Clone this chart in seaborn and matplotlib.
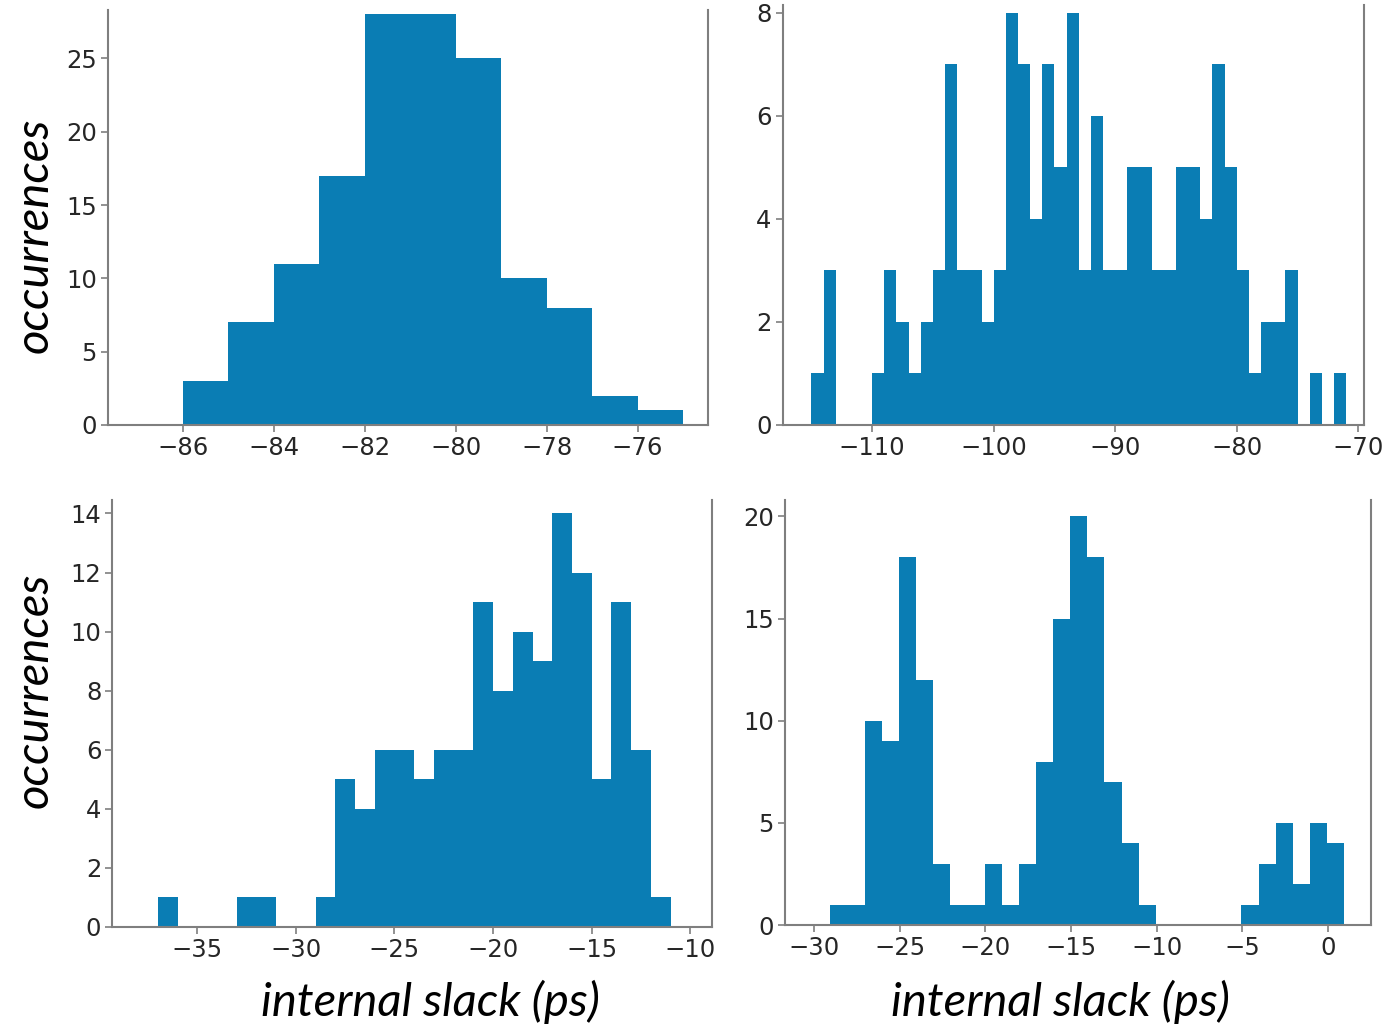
import numpy as np
import pandas as pd
import matplotlib
matplotlib.use("Agg")
import matplotlib.pyplot as plt
import seaborn as sns

# histogram counts (bins of width 1)
tl_start = -86
tl_counts = [3, 7, 11, 17, 28, 28, 25, 10, 8, 2, 1]

tr_start = -115
tr_counts = [1, 3, 0, 0, 0, 1, 3, 2, 1, 2, 3, 7, 3, 3, 2, 3, 8, 7, 4, 7, 5, 8,
             3, 6, 3, 3, 5, 5, 3, 3, 5, 5, 4, 7, 5, 3, 1, 2, 2, 3, 0, 1, 0, 1]

bl_start = -37
bl_counts = [1, 0, 0, 0, 1, 1, 0, 0, 1, 5, 4, 6, 6, 5, 6, 6, 11, 8, 10, 9,
             14, 12, 5, 11, 6, 1]

br_start = -29.05
br_counts = [1, 1, 10, 9, 18, 12, 3, 1, 1, 3, 1, 3, 8, 15, 20, 18, 7, 4, 1,
             0, 0, 0, 0, 0, 1, 3, 5, 2, 5, 4]

panels = [
    # counts, first edge, xlim, ylim, yticks, xticks, axes rect
    (tl_counts, tl_start, (-87.65, -74.45), (0, 28.3), range(0, 26, 5),
     range(-86, -75, 2), [0.0778, 0.5862, 0.4323, 0.404]),
    (tr_counts, tr_start, (-117.35, -69.5), (0, 8.15), range(0, 9, 2),
     range(-110, -69, 10), [0.5640, 0.5862, 0.4190, 0.409]),
    (bl_counts, bl_start, (-39.3, -8.9), (0, 14.45), range(0, 15, 2),
     range(-35, -9, 5), [0.0810, 0.0974, 0.4320, 0.4156]),
    (br_counts, br_start, (-31.7, 2.5), (0, 20.8), range(0, 21, 5),
     range(-30, 1, 5), [0.5656, 0.0993, 0.4220, 0.4137]),
]

sns.set_style("white")
plt.rcParams["font.family"] = ["DejaVu Sans"]

fig = plt.figure(figsize=(13.88, 10.27), dpi=100)
bar_color = "#0a7db4"
spine_color = "#7f7f7f"

for counts, start, xlim, ylim, yticks, xticks, rect in panels:
    ax = fig.add_axes(rect)
    nb = len(counts)
    df = pd.DataFrame({"slack": start + np.arange(nb) + 0.5, "n": counts})
    sns.histplot(data=df, x="slack", weights="n", binwidth=1,
                 binrange=(start, start + nb), color=bar_color,
                 alpha=1, linewidth=0, ax=ax)
    ax.set_xlim(*xlim)
    ax.set_ylim(*ylim)
    ax.set_xticks(list(xticks))
    ax.set_yticks(list(yticks))
    ax.set_xlabel("")
    ax.set_ylabel("")
    ax.spines["top"].set_visible(False)
    for s in ["left", "right", "bottom"]:
        ax.spines[s].set_color(spine_color)
        ax.spines[s].set_linewidth(1.5)
    ax.tick_params(axis="both", which="both", direction="out", length=5,
                   width=1.2, color=spine_color, labelsize=17.5,
                   labelcolor="#262626", bottom=True, left=True, pad=3)

label_font = dict(family=["Lato", "DejaVu Sans"], style="italic", size=34,
                  color="black")
fig.text(0.025, 0.771, "occurrences", rotation=90, ha="center", va="center",
         **label_font)
fig.text(0.025, 0.328, "occurrences", rotation=90, ha="center", va="center",
         **label_font)
fig.text(0.310, 0.024, "internal slack (ps)", ha="center", va="center",
         **label_font)
fig.text(0.764, 0.024, "internal slack (ps)", ha="center", va="center",
         **label_font)

fig.savefig("out.png", dpi=100)
